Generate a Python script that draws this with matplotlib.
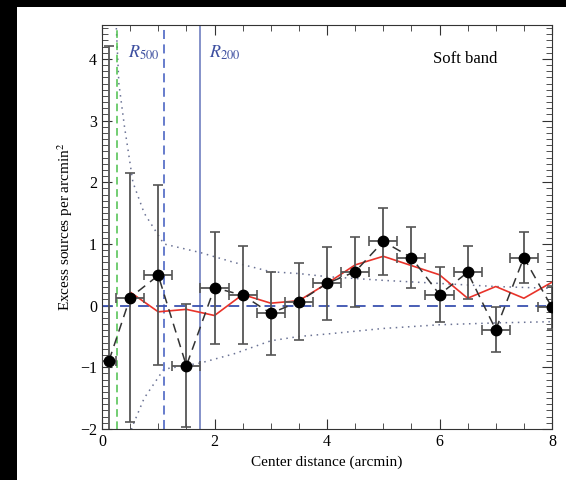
import matplotlib.pyplot as plt
from matplotlib.patches import Rectangle
from matplotlib.ticker import MultipleLocator

# binned excess source density, soft band
r_bin = [0.125, 0.5, 1.0, 1.5, 2.0, 2.5, 3.0, 3.5, 4.0, 4.5, 5.0, 5.5, 6.0, 6.5, 7.0, 7.5, 8.0]
excess = [-0.89, 0.13, 0.49, -0.975, 0.29, 0.17, -0.125, 0.065, 0.36, 0.55, 1.04, 0.78, 0.18, 0.54, -0.39, 0.78, -0.03]
excess_err = [5.1, 2.02, 1.46, 1.0, 0.91, 0.79, 0.67, 0.62, 0.59, 0.57, 0.55, 0.5, 0.44, 0.43, 0.36, 0.41, 0.35]
r_halfwidth = [0.125] + [0.25] * 16

# model curve
r_model = [0.5, 1.0, 1.5, 2.0, 2.5, 3.0, 3.5, 4.0, 4.5, 5.0, 5.5, 6.0, 6.5, 7.0, 7.5, 8.0]
model = [0.22, -0.1, -0.06, -0.16, 0.18, 0.04, 0.08, 0.36, 0.66, 0.8, 0.65, 0.5, 0.12, 0.31, 0.12, 0.38]

# 1-sigma envelope
r_upper = [0.25, 0.3, 0.4, 0.55, 0.75, 1.1, 1.75, 2.35, 3.0, 3.5, 4.0, 5.0, 6.0, 7.0, 8.0]
upper = [4.6, 3.6, 2.9, 2.0, 1.5, 1.0, 0.86, 0.70, 0.55, 0.52, 0.47, 0.41, 0.36, 0.31, 0.28]
r_lower = [0.45, 0.53, 0.75, 1.1, 1.75, 2.35, 3.0, 3.5, 4.0, 5.0, 6.0, 7.0, 8.0]
lower = [-2.4, -1.98, -1.5, -1.03, -0.93, -0.78, -0.57, -0.5, -0.46, -0.37, -0.31, -0.28, -0.26]

r_core = 0.26
r500 = 1.1
r200 = 1.74

plt.rcParams['font.family'] = ['Liberation Serif', 'DejaVu Serif']
plt.rcParams['mathtext.fontset'] = 'stix'

fig = plt.figure(figsize=(5.66, 4.8), dpi=100, facecolor='black')
fig.patches.append(Rectangle((17 / 566, 0), 1, 473 / 480, transform=fig.transFigure,
                             facecolor='white', edgecolor='none', zorder=-1))
ax = fig.add_axes([102 / 566, 51 / 480, 450 / 566, 404 / 480])

ax.plot(r_upper, upper, color='#6a7294', ls=(0, (1, 3)), lw=1.1)
ax.plot(r_lower, lower, color='#6a7294', ls=(0, (1, 3)), lw=1.1)

ax.axvline(r_core, color='#4cc04c', ls=(0, (5, 3)), lw=1.1)
ax.axvline(r500, color='#5a72c8', ls=(0, (5, 3)), lw=1.3)
ax.axvline(r200, color='#6f7fc0', lw=1.2)
ax.axhline(0, color='#3a52b0', ls=(0, (6, 4)), lw=1.3)

ax.plot(r_model, model, color='#e8332a', lw=1.2, zorder=3)
ax.plot(r_bin, excess, color='#333333', ls=(0, (6, 4)), lw=1.1, zorder=4)
ax.errorbar(r_bin, excess, yerr=excess_err, xerr=r_halfwidth, fmt='o',
            color='black', ms=7.5, ecolor='#555555', elinewidth=1.3,
            capsize=3.5, capthick=1.2, zorder=5)

ax.text(0.47, 4.1, r'$R_{500}$', color='#3d4fa0', fontsize=13, va='center')
ax.text(1.9, 4.1, r'$R_{200}$', color='#3d4fa0', fontsize=13, va='center')
ax.text(6.45, 4.0, 'Soft band', fontsize=12, ha='center', va='center')

ax.set_xlim(0, 8)
ax.set_ylim(-2, 4.55)
ax.xaxis.set_major_locator(MultipleLocator(2))
ax.xaxis.set_minor_locator(MultipleLocator(0.5))
ax.yaxis.set_major_locator(MultipleLocator(1))
ax.yaxis.set_minor_locator(MultipleLocator(0.1))
ax.tick_params(which='both', direction='in', top=True, right=True,
               color='#333333', labelsize=11.5)
ax.tick_params(which='major', length=7)
ax.tick_params(which='minor', length=4)
for s in ax.spines.values():
    s.set_color('#333333')

ax.set_xlabel('Center distance (arcmin)', fontsize=11)
ax.set_ylabel('Excess sources per arcmin$^2$', fontsize=11)

fig.savefig('out.png', dpi=100, facecolor=fig.get_facecolor())
